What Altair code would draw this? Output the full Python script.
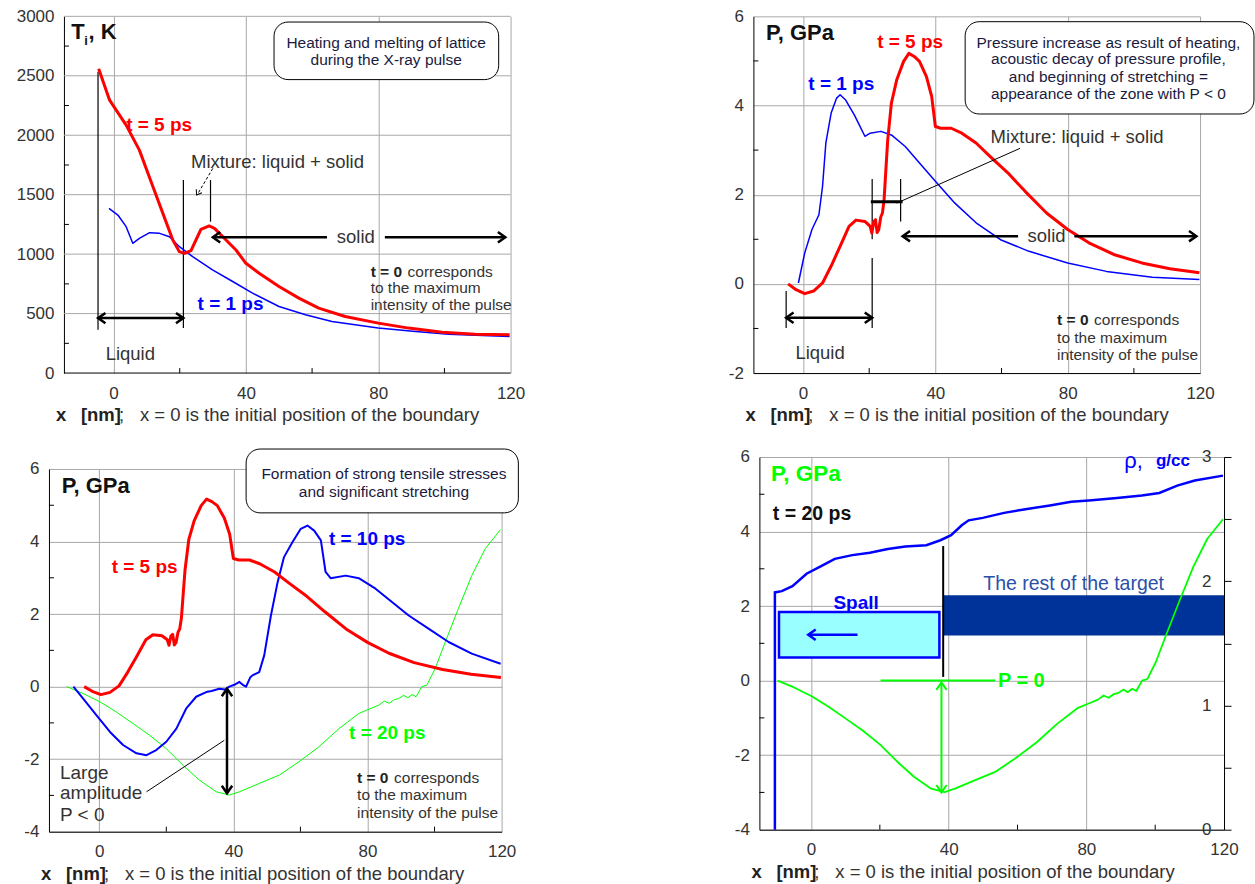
import altair as alt
import pandas as pd

FONT = "Liberation Sans"
GRID = "#a8a8a8"
INK = "#333333"
BOXINK = "#1a1a40"
RED, BLUE, GREEN = "#ff0000", "#0000ff", "#00ff00"

X_TICKS = [0, 40, 80, 120]
X_MINOR = [20, 60, 100]

# ---------------- curves (x in nm) ----------------
# Panel 1: lattice temperature, K
t5_T_x = [-4.5, -1.2, 3.8, 7.8, 11.9, 14.9, 17.9, 19.9, 21.4, 23.4, 24.9, 26.4, 28.9, 30.5, 34, 37,
          40, 44, 50, 56, 62, 70, 80, 89.2, 99.3, 109.3, 119.7]
t5_T_y = [2560, 2295, 2085, 1875, 1567, 1343, 1119, 1021, 1007, 1030, 1119, 1209, 1237, 1217, 1119, 1035,
          923, 840, 728, 630, 546, 476, 420, 378, 344, 327, 322]
t1_T_x = [-1.4, 1.3, 3.8, 5.8, 7.8, 10.9, 13.9, 16.9, 19.9, 23.9, 29.9, 36, 42, 50, 58, 66, 80, 91.3, 101.3, 119.7]
t1_T_y = [1385, 1329, 1231, 1091, 1133, 1181, 1175, 1147, 1063, 979, 868, 770, 672, 560, 490, 434, 378, 350, 327, 308]

# Pressure, GPa
t5_P_x = [-4.5, -2.1, 0.5, 3.2, 5.9, 8.5, 11.2, 13.9, 16.0, 18.7, 20.3, 20.8, 21.4, 21.9, 22.4, 22.9, 23.5, 24.0,
          24.5, 25.1, 25.6, 26.7, 28.3, 30.4, 32.0, 33.6, 35.2, 37.3, 38.9, 40.0, 41.6, 44.8, 48.0, 52.3, 56.5,
          61.9, 67.2, 73.6, 80.0, 86.4, 93.9, 102.4, 110.9, 119.8]
t5_P_y = [0.0, -0.13, -0.22, -0.16, 0.02, 0.40, 0.84, 1.29, 1.43, 1.40, 1.29, 1.14, 1.40, 1.44, 1.15, 1.22, 1.50, 1.59,
          1.89, 2.63, 3.23, 4.05, 4.57, 4.99, 5.17, 5.10, 4.99, 4.65, 4.20, 3.53, 3.49, 3.49, 3.38, 3.16, 2.86,
          2.49, 2.07, 1.59, 1.22, 0.92, 0.66, 0.47, 0.34, 0.25]
t1_P_x = [-1.4, 0.5, 2.7, 4.8, 5.9, 6.9, 8.5, 10.1, 11.2, 12.8, 15.5, 18.7, 20.3, 23.5, 26.7, 30.9, 35.2, 40.0,
          45.9, 52.3, 59.7, 68.3, 80.0, 91.7, 105.6, 119.8]
t1_P_y = [0.02, 0.69, 1.22, 1.55, 2.19, 3.16, 3.83, 4.16, 4.24, 4.13, 3.79, 3.31, 3.38, 3.42, 3.34, 3.08, 2.71, 2.30,
          1.81, 1.37, 0.99, 0.73, 0.47, 0.28, 0.15, 0.10]
t10_P_x = [-7.7, -4.8, -0.8, 3.2, 7.1, 11.1, 14.1, 17.0, 20.0, 23.0, 25.9, 28.9, 31.9, 33.5, 35.8, 37.5, 38.8, 40.3,
           41.8, 42.8, 43.8, 45.0, 45.7, 47.7, 49.2, 51.2, 53.2, 55.1, 57.6, 60.1, 62.1, 64.1, 66.1, 67.5, 69.0,
           73.5, 77.4, 82.4, 87.3, 92.3, 98.2, 104.2, 111.1, 119.7]
t10_P_y = [0.0, -0.33, -0.79, -1.25, -1.61, -1.84, -1.89, -1.75, -1.52, -1.16, -0.61, -0.28, -0.15, -0.12, -0.06,
           -0.08, 0.0, 0.05, 0.13, 0.05, 0.0, 0.25, 0.31, 0.40, 0.86, 1.96, 2.88, 3.57, 3.98, 4.35, 4.44, 4.30, 4.03,
           3.16, 2.99, 3.06, 2.99, 2.70, 2.33, 1.96, 1.60, 1.23, 0.91, 0.63]
t20_P_x = [-9.7, -4.8, 0.2, 5.1, 10.1, 15.0, 20.0, 25.0, 29.9, 34.9, 38.8, 41.8, 47.7, 53.7, 59.6, 65.5, 71.5, 77.4,
           80.5, 83.4, 85.0, 86.5, 88.0, 89.3, 90.8, 92.0, 93.3, 94.5, 96.2, 97.7, 100.2, 103.2, 107.1, 111.1,
           115.1, 119.7]
t20_P_y = [0.0, -0.19, -0.42, -0.70, -1.02, -1.34, -1.71, -2.17, -2.58, -2.90, -2.99, -2.90, -2.67, -2.44, -2.07,
           -1.66, -1.16, -0.74, -0.62, -0.51, -0.40, -0.46, -0.36, -0.33, -0.24, -0.31, -0.22, -0.28, 0.0, 0.04,
           0.50, 1.23, 2.15, 3.06, 3.80, 4.33]
# density, g/cc at t = 20 ps
t20_rho_x = [-10.5, -10.5, -8.5, -5.4, -1.3, 2.8, 6.9, 12.0, 17.1, 22.3, 27.4, 33.5, 37.6, 40.7, 43.8, 45.8, 49.9,
             56.1, 62.3, 69.4, 75.6, 80.7, 88.9, 96.1, 101.2, 106.4, 111.5, 119.7]
t20_rho_y = [0.0, 1.91, 1.92, 1.96, 2.06, 2.12, 2.18, 2.21, 2.23, 2.26, 2.28, 2.29, 2.33, 2.37, 2.45, 2.49, 2.51,
             2.55, 2.58, 2.61, 2.64, 2.65, 2.67, 2.69, 2.71, 2.77, 2.81, 2.85]

T_TICKS = [0, 500, 1000, 1500, 2000, 2500, 3000]
T_MINOR = [250, 750, 1250, 1750, 2250, 2750]
P2_TICKS = [-2, 0, 2, 4, 6]
P2_MINOR = [-1, 1, 3, 5]
P3_TICKS = [-4, -2, 0, 2, 4, 6]
P3_MINOR = [-3, -1, 1, 3, 5]
RHO_TICKS = [0, 0.5, 1, 1.5, 2, 2.5, 3]

NOTE = ["corresponds", "to the maximum", "intensity of the pulse"]

HEADS = {
    "left": "M1,-0.7L0,0L1,0.7",
    "right": "M-1,-0.7L0,0L-1,0.7",
    "up": "M-0.7,1L0,0L0.7,1",
    "down": "M-0.7,-1L0,0L0.7,-1",
}

LAB = 18.5   # annotation font size
SER = 19     # series label font size


class Panel:
    def __init__(self, ydom, yvals, yminor, w, h, yextent, shift=0):
        # shift: empty pixels kept at the left of the group, the plot frame starts after them
        ppn = w / 135.0
        self.shift = shift
        self.xdom = [-15 - shift / ppn, 120]
        self.ydom = ydom
        self.w, self.h = w + shift, h
        xkw = dict(values=X_TICKS, labelExpr="'' + datum.value", grid=True, gridColor=GRID,
                   gridWidth=1, ticks=False, domain=(shift == 0), domainColor="#000000", domainWidth=1,
                   labelFont=FONT, labelFontSize=17, labelColor=INK, labelPadding=12, labelFlush=False,
                   labelOverlap=False, labelAngle=0, title=None)
        ykw = dict(values=yvals, labelExpr="'' + datum.value", grid=(shift == 0), gridColor=GRID, gridWidth=1,
                   ticks=False, domainColor="#000000", domainWidth=1, labelFont=FONT, labelFontSize=17,
                   labelColor=INK, labelPadding=10, labelOverlap=False, minExtent=yextent,
                   maxExtent=yextent, title=None)
        if shift:
            ykw["offset"] = -shift
        self.xax = alt.Axis(**xkw)
        self.yax = alt.Axis(**ykw)
        self.layers = []
        if shift:
            self.segs([(-15, v, 120, v) for v in yvals if v != ydom[0]], color=GRID, width=1)
            self.segs([(-15, ydom[0], 120, ydom[0])], color="#000000", width=1)
        self.minor(yminor)
        self.xtitle()

    def X(self):
        return alt.X("x:Q", scale=alt.Scale(domain=self.xdom, nice=False, zero=False), axis=self.xax)

    def Y(self):
        return alt.Y("y:Q", scale=alt.Scale(domain=self.ydom, nice=False, zero=False), axis=self.yax)

    def minor(self, yminor):
        s = self.shift
        self.layers.append(alt.Chart(pd.DataFrame({"y": yminor})).mark_rule(
            strokeWidth=1, color="#000000"
        ).encode(y=self.Y(), x=alt.value(s), x2=alt.value(s + 5)))
        self.layers.append(alt.Chart(pd.DataFrame({"x": X_MINOR})).mark_rule(
            strokeWidth=1, color="#000000"
        ).encode(x=self.X(), y=alt.value(self.h - 5), y2=alt.value(self.h)))

    def xtitle(self):
        y = self.h + 42
        s = self.shift
        parts = [(-8, "x", True), (17, "[nm]", True), (55, ";", False),
                 (76, "x = 0 is the initial position of the boundary", False)]
        for px, t, b in parts:
            kw = dict(font=FONT, fontSize=18.5, color="#222222" if b else INK, align="left", baseline="middle")
            if b:
                kw["fontWeight"] = "bold"
            self.layers.append(alt.Chart(pd.DataFrame({"t": [t]})).mark_text(**kw).encode(
                x=alt.value(px + s), y=alt.value(y), text="t:N"))

    def line(self, xs, ys, color, width):
        df = pd.DataFrame({"x": xs, "y": ys, "i": list(range(len(xs)))})
        self.layers.append(alt.Chart(df).mark_line(color=color, strokeWidth=width, strokeJoin="round").encode(
            x=self.X(), y=self.Y(), order="i:Q"))

    def text(self, xs, ys, texts, size=LAB, color=INK, bold=False, align="left", dx=0):
        df = pd.DataFrame({"x": xs, "y": ys, "t": texts})
        kw = dict(font=FONT, fontSize=size, color=color, align=align, baseline="middle")
        if bold:
            kw["fontWeight"] = "bold"
        if dx:
            kw["dx"] = dx
        self.layers.append(alt.Chart(df).mark_text(**kw).encode(x=self.X(), y=self.Y(), text="t:N"))

    def segs(self, rows, color="#000000", width=1.5, dash=None):
        df = pd.DataFrame(rows, columns=["x", "y", "x2", "y2"])
        kw = dict(color=color, strokeWidth=width)
        if dash:
            kw["strokeDash"] = dash
        self.layers.append(alt.Chart(df).mark_rule(**kw).encode(
            x=self.X(), y=self.Y(), x2=alt.X2("x2"), y2=alt.Y2("y2")))

    def head(self, x, y, d, color="#000000", size=220, width=2.5, angle=0):
        kw = dict(shape=HEADS[d], size=size, filled=False, color=color, strokeWidth=width, opacity=1)
        if angle:
            kw["angle"] = angle
        self.layers.append(alt.Chart(pd.DataFrame({"x": [x], "y": [y]})).mark_point(**kw).encode(
            x=self.X(), y=self.Y()))

    def rect(self, x1, x2, y1, y2, fill, stroke=None, sw=1.0, radius=0):
        df = pd.DataFrame({"x": [x1], "x2": [x2], "y": [y1], "y2": [y2]})
        kw = dict(fill=fill, opacity=1)
        if stroke:
            kw.update(stroke=stroke, strokeWidth=sw)
        if radius:
            kw["cornerRadius"] = radius
        self.layers.append(alt.Chart(df).mark_rect(**kw).encode(
            x=self.X(), x2=alt.X2("x2"), y=self.Y(), y2=alt.Y2("y2")))

    def note(self, x, ys):
        self.text([x], [ys[0]], ["t = 0"], size=15.5, color="#222222", bold=True)
        self.text([x], [ys[0]], [NOTE[0]], size=15.5, dx=37)
        self.text([x, x], ys[1:], NOTE[1:], size=15.5)

    def chart(self):
        return alt.layer(*self.layers).properties(width=self.w, height=self.h)


# ---------------- Panel 1 ----------------
p1 = Panel([0, 3000], T_TICKS, T_MINOR, 447, 357, 49, shift=15)
p1.rect(48.5, 116.4, 2468, 2952, "#ffffff", "#000000", 1, 14)
p1.text([82.4, 82.4], [2776, 2636], ["Heating and melting of lattice", "during the X-ray pulse"],
        size=15.5, color=BOXINK, align="center")
p1.segs([(-4.7, 364, -4.7, 2533), (21.1, 378, 21.1, 1623), (29.3, 1273, 29.3, 1623)], width=1.2)
p1.line(t1_T_x, t1_T_y, BLUE, 1.5)
p1.line(t5_T_x, t5_T_y, RED, 3)
p1.segs([(-4.7, 462, 21.1, 462), (30, 1142, 64.5, 1142), (82.0, 1142, 118.4, 1142)], width=2.5)
p1.head(-4.7, 462, "left")
p1.head(21.1, 462, "right")
p1.head(30, 1142, "left")
p1.head(118.4, 1142, "right")
p1.segs([(30, 1721, 25.6, 1515)], width=1, dash=[3, 2])
p1.head(25.1, 1497, "left", size=90, width=1, angle=301)
p1.text([-12.8], [2868], ["T"], size=22, color="#111111", bold=True)
p1.text([-8.9], [2790], ["i"], size=13, color="#111111", bold=True)
p1.text([-7.6], [2868], [",  K"], size=22, color="#111111", bold=True)
p1.text([3.8], [2085], ["t = 5 ps"], size=SER, color=RED, bold=True)
p1.text([25.4], [582], ["t = 1 ps"], size=SER, color=BLUE, bold=True)
p1.text([23.4], [1777], ["Mixture: liquid + solid"])
p1.text([-2.4], [162], ["Liquid"])
p1.text([73.2], [1142], ["solid"], align="center")
p1.note(77.7, [853, 713, 573])

# ---------------- Panel 2 ----------------
p2 = Panel([-2, 6], P2_TICKS, P2_MINOR, 447, 357, 38)
p2.rect(49, 136.3, 3.81, 5.88, "#ffffff", "#000000", 1, 14)
p2.text([92.3] * 4, [5.41, 5.04, 4.65, 4.25],
        ["Pressure increase as result of heating,", "acoustic decay  of pressure profile,",
         "and beginning of stretching =", "appearance of the zone with P < 0"],
        size=15.5, color=BOXINK, align="center")
p2.segs([(20.9, 1.0, 20.9, 2.35), (20.9, -0.99, 20.9, 0.58), (29.5, 1.40, 29.5, 2.35),
         (-5.1, -0.99, -5.1, -0.16)], width=1.2)
p2.line(t1_P_x, t1_P_y, BLUE, 1.5)
p2.line(t5_P_x, t5_P_y, RED, 3)
p2.segs([(65.6, 3.04, 28.3, 1.81)], width=1)
p2.segs([(20.5, 1.84, 30.1, 1.84)], width=3)
p2.segs([(-5.1, -0.76, 20.9, -0.76), (30.1, 1.07, 65.0, 1.07), (82.0, 1.07, 118.9, 1.07)], width=2.5)
p2.head(-5.1, -0.76, "left")
p2.head(20.9, -0.76, "right")
p2.head(30.1, 1.07, "left")
p2.head(118.9, 1.07, "right")
p2.text([-11.2], [5.62], ["P, GPa"], size=22, color="#111111", bold=True)
p2.text([22.4], [5.43], ["t = 5 ps"], size=SER, color=RED, bold=True)
p2.text([1.6], [4.48], ["t = 1 ps"], size=SER, color=BLUE, bold=True)
p2.text([56.7], [3.29], ["Mixture: liquid + solid"])
p2.text([-2.3], [-1.56], ["Liquid"])
p2.text([73.6], [1.07], ["solid"], align="center")
p2.note(76.8, [-0.81, -1.21, -1.60])

# ---------------- Panel 3 ----------------
p3 = Panel([-4, 6], P3_TICKS, P3_MINOR, 453, 363, 49)
p3.rect(43.8, 125, 4.79, 6.55, "#ffffff", "#000000", 1, 14)
p3.text([84.9, 84.9], [5.86, 5.36], ["Formation of strong tensile stresses", "and significant stretching"],
        size=15.5, color=BOXINK, align="center")
p3.line(t20_P_x, t20_P_y, GREEN, 1)
p3.line(t10_P_x, t10_P_y, BLUE, 2)
p3.line(t5_P_x, t5_P_y, RED, 3)
p3.segs([(38.1, -0.06, 38.1, -2.94)], width=2.5)
p3.head(38.1, -0.06, "up")
p3.head(38.1, -2.94, "down")
p3.segs([(37.3, -1.48, 14.1, -2.90)], width=1)
p3.text([-11.2], [5.54], ["P, GPa"], size=22, color="#111111", bold=True)
p3.text([3.7], [3.29], ["t = 5 ps"], size=SER, color=RED, bold=True)
p3.text([68.5], [4.07], ["t = 10 ps"], size=SER, color=BLUE, bold=True)
p3.text([74.5], [-1.27], ["t = 20 ps"], size=SER, color=GREEN, bold=True)
p3.text([-11.7] * 3, [-2.37, -2.94, -3.54], ["Large", "amplitude", "P < 0"], size=19)
p3.note(76.9, [-2.51, -2.99, -3.48])

# ---------------- Panel 4 ----------------
p4 = Panel([-4, 6], P3_TICKS, P3_MINOR, 465, 373, 44)
p4.rect(38.4, 120, 1.21, 2.29, "#003399")
p4.rect(-9.3, 37.3, 0.62, 1.84, "#99ffff", BLUE, 2.5)
p4.segs([(13.5, 1.23, -0.6, 1.23)], color=BLUE, width=2.5)
p4.head(-0.8, 1.23, "left", color=BLUE)
p4.segs([(38.4, 0.10, 38.4, 3.61)], width=2)
p4.segs([(20.2, 0, 53.5, 0)], color=GREEN, width=2)
p4.line(t20_P_x, t20_P_y, GREEN, 1.8)
p4.segs([(37.9, -0.05, 37.9, -3.0)], color=GREEN, width=2)
p4.head(37.9, -0.05, "up", color=GREEN, width=2)
p4.head(37.9, -3.0, "down", color=GREEN, width=2)
p4.text([-11.6], [5.54], ["P, GPa"], size=22.5, color=GREEN, bold=True)
p4.text([-11.1], [4.46], ["t = 20 ps"], size=19.5, color="#111111", bold=True)
p4.text([13.1], [2.08], ["Spall"], size=19, color=BLUE, bold=True, align="center")
p4.text([76.3], [2.59], ["The rest of the target"], size=19.5, color="#2a50a8", align="center")
p4.text([54.3], [0], ["P = 0"], size=20, color=GREEN, bold=True)
p4.text([91], [5.89], ["\u03c1,"], size=22, color=BLUE)
p4.text([100.2], [5.89], ["g/cc"], size=17, color=BLUE, bold=True)

rho_axis = alt.Axis(orient="right", values=RHO_TICKS,
                    labelExpr="datum.value % 1 === 0 ? '' + datum.value : ''",
                    grid=False, ticks=True, tickSize=7, tickColor="#000000", domainColor="#000000",
                    domainWidth=1, labelFont=FONT, labelFontSize=17, labelColor=INK, labelAlign="right",
                    labelPadding=-20, labelOverlap=False, minExtent=7, maxExtent=7, title=None)
rho_df = pd.DataFrame({"x": t20_rho_x, "y": t20_rho_y, "i": list(range(len(t20_rho_x)))})
rho_line = alt.Chart(rho_df).mark_line(color=BLUE, strokeWidth=2.5).encode(
    x=p4.X(),
    y=alt.Y("y:Q", scale=alt.Scale(domain=[0, 3], nice=False, zero=False), axis=rho_axis),
    order="i:Q")
c4 = alt.layer(alt.layer(*p4.layers), rho_line).resolve_scale(y="independent").properties(
    width=p4.w, height=p4.h)

chart = alt.concat(p1.chart(), p2.chart(), p3.chart(), c4, columns=2, align="none",
                   spacing={"row": 23, "column": 190}).properties(
    padding={"left": 0, "top": 7, "right": 0, "bottom": 0}
).configure_view(strokeWidth=0)

chart.save("out.html", embed_options={"renderer": "svg", "actions": False})
